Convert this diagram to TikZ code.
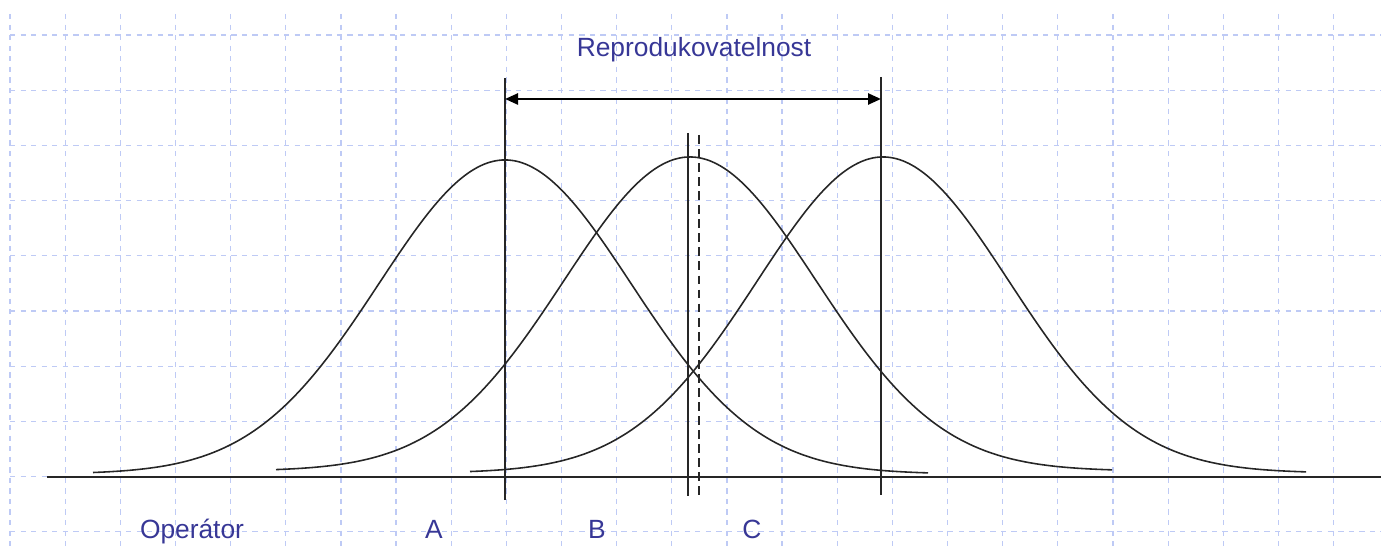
\documentclass[tikz,border=0pt]{standalone}
\usepackage{fontspec}
\setmainfont{Liberation Sans}
\usepackage{tikz}
\usetikzlibrary{arrows.meta,positioning}
\definecolor{gridblue}{RGB}{190,202,245}
\definecolor{labelblue}{RGB}{55,55,150}

\begin{document}
\begin{tikzpicture}[x=0.02cm, y=-0.02cm,
  gridline/.style={gridblue, dashed, line width=0.7pt},
  curve/.style={black!85, line width=0.9pt},
  marker/.style={black!85, line width=0.9pt},
  span/.style={{Triangle[length=0.26cm,width=0.22cm]}-{Triangle[length=0.26cm,width=0.22cm]}, line width=1.4pt},
  lbl/.style={text=labelblue, font=\fontsize{15}{17}\selectfont, inner sep=0pt, anchor=base}
]
  \useasboundingbox (0,0) rectangle (1381,546);

  % background grid
  \foreach \k in {0,...,24} {
    \draw[gridline] ({10+55.15*\k},14) -- ({10+55.15*\k},546);
  }
  \foreach \k in {0,...,9} {
    \draw[gridline] (10,{35+55.2*\k}) -- (1381,{35+55.2*\k});
  }

  % axis
  \coordinate (axisL) at (47,477);
  \coordinate (axisR) at (1381,477);
  \draw[marker] (axisL) -- (axisR);

  % distributions
  \draw[curve] plot[domain=93:928, samples=140, smooth] (\x, {474 - 314*exp(-((\x-505)/126)^2/2)});
  \draw[curve] plot[domain=276:1112, samples=140, smooth] (\x, {471 - 314*exp(-((\x-690)/126)^2/2)});
  \draw[curve] plot[domain=470:1306, samples=140, smooth] (\x, {473 - 316*exp(-((\x-883)/126)^2/2)});

  % means
  \coordinate (meanOpTop) at (505,78);
  \coordinate (meanOpBot) at (505,500);
  \coordinate (meanBTop) at (881,77);
  \coordinate (meanBBot) at (881,495);
  \coordinate (meanATop) at (688,133);
  \coordinate (meanABot) at (688,496);
  \coordinate (refTop) at (699,135);
  \coordinate (refBot) at (699,500);
  \draw[marker] (meanOpTop) -- (meanOpBot);
  \draw[marker] (meanBTop) -- (meanBBot);
  \draw[marker] (meanATop) -- (meanABot);
  \draw[marker, dash pattern=on 5pt off 3pt] (refTop) -- (refBot);

  % reproducibility span
  \coordinate (spanL) at (505,99);
  \coordinate (spanR) at (881,99);
  \draw[span] (spanL) -- (spanR);

  % labels
  \node[lbl] (title) at (694,57) {Reprodukovatelnost};
  \node[lbl] (opLabel) at (192,538) {Operátor};
  \node[lbl] (aLabel) at (434,538) {A};
  \node[lbl] (bLabel) at (597,538) {B};
  \node[lbl] (cLabel) at (752,538) {C};
\end{tikzpicture}
\end{document}
